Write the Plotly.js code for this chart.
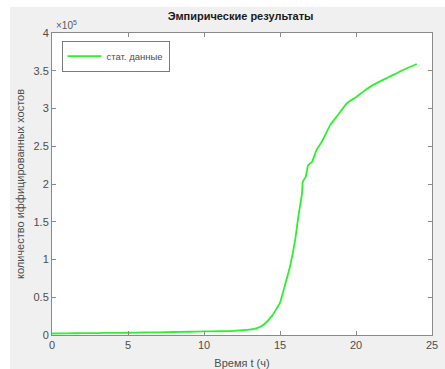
<!DOCTYPE html>
<html><head><meta charset="utf-8">
<script src="https://cdn.plot.ly/plotly-3.0.1.min.js"></script>
<style>
html,body{margin:0;padding:0;background:#fff;width:445px;height:369px;overflow:hidden;}
#chart{position:absolute;left:10px;top:7px;width:435px;height:362px;}
</style></head>
<body><div id="chart"></div>
<script>
const tHours = [0,1,2,3,4,5,6,7,8,9,10,11,12,13,13.5,14,14.5,15,15.3,15.65,16,16.2,16.45,16.5,16.7,16.85,17.1,17.4,17.75,18.3,18.8,19.4,20,20.45,21.1,22.2,23.1,24];
const infectedHosts = [2000,2200,2400,2600,2800,3000,3300,3600,4000,4300,4700,5000,5500,7000,9000,15000,26000,43000,64000,90000,126000,156000,188000,203000,210000,225000,229000,245000,256000,278000,291000,307000,315000,322000,331000,342000,351000,359000];
const yTickVals = [0,50000,100000,150000,200000,250000,300000,350000,400000];
const yTickText = ['0','0.5','1','1.5','2','2.5','3','3.5','4'];
const xTickVals = [0,5,10,15,20,25];

const font = 'Liberation Sans, Arial, sans-serif';
const axisCommon = {
  showline:true, linecolor:'#8a8a8a', linewidth:1, mirror:'ticks',
  ticks:'inside', ticklen:4, tickcolor:'#8a8a8a', showgrid:false, zeroline:false,
  tickfont:{family:font, size:11, color:'#4d4d4d'}
};
const data = [{
  x:tHours, y:infectedHosts, type:'scatter', mode:'lines', name:'стат. данные',
  line:{color:'#2ef02e', width:1.8, shape:'spline', smoothing:0.4}
}];
const layout = {
  width:435, height:362,
  paper_bgcolor:'#f0f0f0', plot_bgcolor:'#ffffff',
  margin:{l:42, r:13, t:26, b:34},
  title:{text:'<b>Эмпирические результаты</b>', font:{family:font, size:11, color:'#1a1a1a'}, x:0.53, xanchor:'center', y:0.985, yanchor:'top'},
  xaxis:Object.assign({}, axisCommon, {range:[0,25], tickvals:xTickVals,
    title:{text:'Время t (ч)', font:{family:font, size:11, color:'#4d4d4d'}, standoff:9}}),
  yaxis:Object.assign({}, axisCommon, {range:[0,400000], tickvals:yTickVals, ticktext:yTickText,
    title:{text:'количество иффицированных хостов', font:{family:font, size:11, color:'#4d4d4d'}, standoff:6}}),
  showlegend:true,
  legend:{x:0.025, y:0.975, xanchor:'left', yanchor:'top', bgcolor:'#ffffff', bordercolor:'#7a7a7a', borderwidth:1,
    font:{family:font, size:9.5, color:'#4d4d4d'}, itemwidth:34, tracegroupgap:0},
  annotations:[{xref:'paper', yref:'paper', x:0.005, y:1.0, xanchor:'left', yanchor:'bottom', showarrow:false,
    text:'×10<sup>5</sup>', font:{family:font, size:10, color:'#5a5a5a'}}]
};
Plotly.newPlot('chart', data, layout, {displayModeBar:false, staticPlot:true});
</script></body></html>
